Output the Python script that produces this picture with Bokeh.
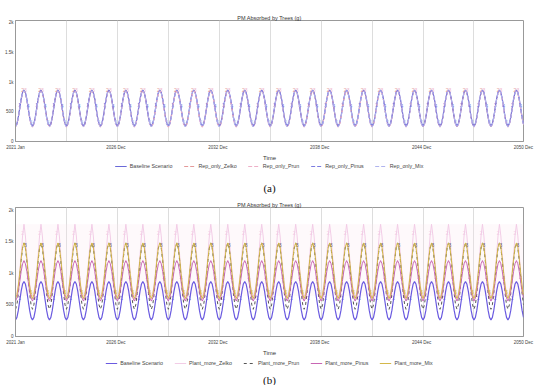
import numpy as np
from bokeh.plotting import figure
from bokeh.layouts import column
from bokeh.models import (FixedTicker, Legend, LegendItem, Label, Range1d,
                          BoxAnnotation, ColumnDataSource)
from bokeh.core.properties import value
from bokeh.embed import file_html
from bokeh.resources import INLINE

# ---------------- data ----------------
N_YEARS = 30
tick_months = [0, 71, 143, 215, 287, 359]
tick_labels = ["2021 Jan", "2026 Dec", "2032 Dec", "2038 Dec", "2044 Dec", "2050 Dec"]
grid_months = [36, 72, 108, 144, 180, 216, 252, 288, 324]
y_ticks = [0, 500, 1000, 1500, 2000]
y_labels = ["0", "500", "1k", "1.5k", "2k"]

# monthly profiles (Jan..Dec), repeated every year
baseline = [262, 302, 412, 565, 718, 830, 868, 830, 718, 565, 412, 302]

rep_zelko = [250, 290, 400, 550, 705, 815, 855, 815, 705, 550, 400, 290]
rep_prun = [240, 280, 390, 540, 700, 810, 850, 812, 700, 545, 392, 282]
rep_pinus = [255, 296, 405, 556, 712, 823, 862, 822, 712, 556, 405, 296]
rep_mix = [245, 286, 396, 548, 706, 818, 857, 818, 706, 548, 396, 286]

plant_zelko = [640, 690, 830, 1030, 1290, 1590, 1775, 1590, 1290, 1030, 830, 690]
plant_prun = [430, 500, 680, 930, 1200, 1400, 1480, 1400, 1200, 930, 680, 500]
plant_pinus = [560, 610, 720, 870, 1030, 1150, 1200, 1150, 1030, 870, 720, 610]
plant_mix = [600, 660, 800, 1000, 1230, 1410, 1480, 1410, 1230, 1000, 800, 660]

months = list(range(12 * N_YEARS))

FONT = "Liberation Sans"


def make_panel(title, series, frame_h, b_left, b_right, b_top, b_bottom, show_band=False):
    p = figure(width=534, frame_height=frame_h, output_backend="svg", toolbar_location=None,
               x_range=Range1d(0, 359), y_range=Range1d(0, 2040),
               min_border_left=b_left, min_border_right=b_right,
               min_border_top=b_top, min_border_bottom=b_bottom)
    p.title.text = title
    p.title.align = "center"
    p.title.text_font = FONT
    p.title.text_font_size = "5.5px"
    p.title.text_font_style = "normal"
    p.title.text_color = "#333333"
    p.title.standoff = 0
    p.title.offset = 0
    p.outline_line_color = "#999999"
    p.background_fill_color = "white"

    p.xaxis.ticker = FixedTicker(ticks=tick_months)
    p.xaxis.major_label_overrides = {m: l for m, l in zip(tick_months, tick_labels)}
    p.yaxis.ticker = FixedTicker(ticks=y_ticks)
    p.yaxis.major_label_overrides = {t: l for t, l in zip(y_ticks, y_labels)}
    for ax in (p.xaxis, p.yaxis):
        ax.major_label_text_font = FONT
        ax.major_label_text_font_size = "4.5px"
        ax.major_label_text_color = "#444444"
        ax.major_tick_line_color = None
        ax.minor_tick_line_color = None
        ax.major_tick_out = 0
        ax.major_tick_in = 0
        ax.minor_tick_out = 0
        ax.axis_line_color = "#999999"
        ax.major_label_standoff = 3
    p.yaxis.major_label_standoff = 2
    p.xaxis.axis_label = "Time"
    p.xaxis.axis_label_text_font = FONT
    p.xaxis.axis_label_text_font_size = "6px"
    p.xaxis.axis_label_text_font_style = "normal"
    p.xaxis.axis_label_text_color = "#333333"
    p.xaxis.axis_label_standoff = 2

    p.xgrid.ticker = FixedTicker(ticks=grid_months)
    p.xgrid.grid_line_color = "#dddddd"
    p.ygrid.grid_line_color = None

    if show_band:
        z = series[1][1]
        p.add_layout(BoxAnnotation(bottom=min(z), top=max(z), fill_color="#fce6ef",
                                   fill_alpha=0.25, line_color=None, level="underlay"))

    for k, (name, prof, color, dash, width) in enumerate(series):
        y = list(np.tile(prof, N_YEARS))
        p.line(months, y, line_color=color, line_dash=dash, line_width=width)
        idx = list(range(3 + 2 * k, len(months), 12))
        src = ColumnDataSource(dict(x=[months[i] for i in idx], y=[y[i] for i in idx],
                                    t=[str(k + 1)] * len(idx)))
        p.text("x", "y", text="t", source=src, text_font=value(FONT),
               text_font_size="5px", text_color=color, text_align="center",
               text_baseline="bottom", y_offset=-1)
    return p


def make_legend(series, letter, height, legend_margin, letter_y):
    q = figure(width=534, height=height, output_backend="svg", toolbar_location=None,
               x_range=Range1d(-20, -10), y_range=Range1d(-20, -10),
               x_axis_type=None, y_axis_type=None,
               min_border_left=0, min_border_right=0, min_border_top=0, min_border_bottom=0)
    q.outline_line_color = None
    q.xgrid.grid_line_color = None
    q.ygrid.grid_line_color = None
    items = []
    for k, (name, prof, color, dash, width) in enumerate(series):
        y = list(np.tile(prof, N_YEARS))
        r = q.line(months, y, line_color=color, line_dash=dash, line_width=width)
        items.append(LegendItem(label=name, renderers=[r]))
    leg = Legend(items=items, orientation="horizontal", location="top_center",
                 label_text_font=FONT, label_text_font_size="5.3px",
                 label_text_color="#444444", glyph_width=12, glyph_height=6,
                 label_height=6, spacing=11, padding=1, margin=legend_margin,
                 label_standoff=3, border_line_color=None, background_fill_alpha=0)
    q.add_layout(leg)
    q.add_layout(Label(x=-15, y=letter_y, y_units="screen", text=letter,
                       text_font="Liberation Serif", text_font_size="11px",
                       text_color="#111111", text_align="center",
                       text_baseline="middle"))
    return q


series_a = [
    ("Baseline Scenario", baseline, "#6a6ad8", "solid", 1.2),
    ("Rep_only_Zelko", rep_zelko, "#e49a9a", "4 2", 1.0),
    ("Rep_only_Prun", rep_prun, "#eeb0c8", "4 2", 1.0),
    ("Rep_only_Pinus", rep_pinus, "#7c7ce0", "4 2", 1.0),
    ("Rep_only_Mix", rep_mix, "#b0b4ee", "4 2", 1.0),
]
series_b = [
    ("Baseline Scenario", baseline, "#6a5ae0", "solid", 1.2),
    ("Plant_more_Zelko", plant_zelko, "#f2cce6", "solid", 1.0),
    ("Plant_more_Prun", plant_prun, "#555555", "3 3", 1.0),
    ("Plant_more_Pinus", plant_pinus, "#c866b4", "solid", 1.0),
    ("Plant_more_Mix", plant_mix, "#d4b84a", "solid", 1.0),
]

pa = make_panel("PM Absorbed by Trees (g)", series_a, 121, 15, 11, 20, 10)
la = make_legend(series_a, "(a)", 31, 0, 7)
pb = make_panel("PM Absorbed by Trees (g)", series_b, 129, 6, 5, 13, 10, show_band=True)
lb = make_legend(series_b, "(b)", 27, 2, 6)

layout = column(pa, la, pb, lb, spacing=0)
open("out.html", "w").write(file_html(layout, INLINE))
